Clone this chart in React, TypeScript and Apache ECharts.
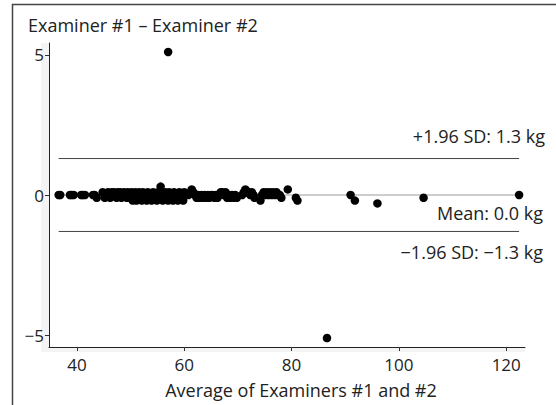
import React, { useEffect, useRef } from "react";
import * as echarts from "echarts";

const xTicks = [40, 60, 80, 100, 120];
const yTicks = [-5, 0, 5];

// Average of Examiners #1 and #2 (kg)
const avgValues = [
  36.6, 36.9,
  38.7, 39.0, 39.4,
  40.8, 41.1, 41.5,
  43.0, 43.3, 43.7,
  44.8, 45.2,
  45.8, 46.0, 46.2, 46.5, 46.7, 46.9, 47.2, 47.4, 47.6, 47.9,
  48.1, 48.3, 48.6, 48.8, 49.0, 49.3, 49.5, 49.7, 50.0, 50.2,
  50.4, 50.7, 50.9, 51.1, 51.4, 51.6, 51.8, 52.1, 52.3, 52.5,
  52.8, 53.0, 53.2, 53.5, 53.7, 53.9, 54.2, 54.4, 54.6, 54.9,
  55.1, 55.3, 55.6, 55.8, 56.0, 56.3, 56.5, 56.7, 57.0, 57.2,
  57.4, 57.7, 57.9, 58.1, 58.4, 58.6, 58.8, 59.1, 59.3, 59.5,
  59.8, 60.0, 60.2,
  60.8, 61.1, 61.4, 61.7, 62.0, 62.3, 62.6, 62.9, 63.2, 63.5,
  63.8, 64.1, 64.4, 64.7, 65.0, 65.3, 65.6, 65.9, 66.2, 66.5,
  66.8, 67.1, 67.4, 67.7, 68.0, 68.3, 68.6, 68.9, 69.2, 69.5,
  69.8,
  70.8, 71.1, 71.4, 71.7, 72.0, 72.3, 72.6, 72.9, 73.1,
  74.2, 74.5, 74.8, 75.1, 75.4, 75.7, 76.0, 76.3, 76.6, 76.9,
  77.2, 77.5, 77.8, 78.1,
  79.3, 80.8, 81.1, 91.0, 91.8, 96.0, 104.6, 122.4,
  57.0, 86.6,
];

// Difference Examiner #1 – Examiner #2 (kg)
const diffValues = [
  0, 0,
  0, 0, 0,
  0, 0, 0,
  0, 0, -0.1,
  0.1, -0.1,
  0.1, 0, -0.1, 0.1, 0, 0.1, 0, -0.1, 0.1, 0,
  0.1, -0.1, 0, 0.1, 0, -0.1, 0.1, 0, -0.1, 0.1,
  -0.2, 0, 0.1, -0.2, -0.1, 0.1, 0, -0.2, 0.1, -0.1,
  0, -0.2, 0.1, -0.1, 0, -0.2, 0.1, -0.1, 0, -0.2,
  0.1, -0.1, 0.3, 0.1, -0.2, 0, 0.1, -0.1, -0.2, 0.1,
  0, -0.1, -0.2, 0.1, 0, -0.1, -0.2, 0.1, 0, -0.1,
  -0.2, 0.1, 0,
  0, 0.1, 0.2, 0.1, 0, -0.1, 0, -0.1, 0, -0.1,
  0, -0.1, 0, -0.1, 0, 0, -0.1, 0, -0.1, 0,
  0.1, 0.1, 0, 0.1, -0.1, 0, -0.1, 0, -0.1, 0,
  -0.1,
  0, 0.1, 0.2, 0.1, 0.1, 0, 0.1, 0, -0.1,
  -0.2, 0, 0.1, 0, 0.1, 0, 0.1, 0, 0.1, 0,
  0.1, 0, 0, -0.1,
  0.2, -0.1, -0.2, 0, -0.2, -0.3, -0.1, 0,
  5.1, -5.1,
];

const meanDiff = 0.0;
const upperLimit = 1.3;
const lowerLimit = -1.3;

const title = "Examiner #1 \u2013 Examiner #2";
const xTitle = "Average of Examiners #1 and #2";
const upperLabel = "+1.96 SD: 1.3 kg";
const meanLabel = "Mean: 0.0 kg";
const lowerLabel = "\u22121.96 SD: \u22121.3 kg";

const FONT = "'Open Sans', Lato, sans-serif";

export default function App() {
  const ref = useRef<HTMLDivElement>(null);
  useEffect(() => {
    if (!ref.current) return;
    const chart = echarts.init(ref.current, null, { renderer: "svg" });
    const xMin = Math.min(...avgValues);
    const xMax = Math.max(...avgValues);
    const points = avgValues.map((x, i) => [x, diffValues[i]]);
    const hline = (y: number, color: string) => ({
      type: "line",
      data: [
        [xMin, y],
        [xMax, y],
      ],
      symbol: "none",
      lineStyle: { color, width: 1 },
      silent: true,
      z: 1,
    });
    const fmt = (v: number) => String(v).replace("-", "\u2212");
    const textStyle = { fontFamily: FONT, fontSize: 18, fill: "#222" };
    chart.setOption({
      animation: false,
      grid: { left: 49, right: 31, top: 43, bottom: 58 },
      xAxis: {
        type: "value",
        min: 34.8,
        max: 123.5,
        axisLine: { show: true, onZero: false, lineStyle: { color: "#222", width: 1 } },
        axisTick: { show: true, length: 4, customValues: xTicks, lineStyle: { color: "#333" } },
        axisLabel: { customValues: xTicks, formatter: fmt, fontFamily: FONT, fontSize: 17, color: "#222", margin: 9 },
        splitLine: { show: false },
      },
      yAxis: {
        type: "value",
        min: -5.42,
        max: 5.42,
        axisLine: { show: true, onZero: false, lineStyle: { color: "#222", width: 1 } },
        axisTick: { show: true, length: 4, customValues: yTicks, lineStyle: { color: "#333" } },
        axisLabel: { customValues: yTicks, formatter: fmt, fontFamily: FONT, fontSize: 17, color: "#222", margin: 5 },
        splitLine: { show: false },
      },
      series: [
        hline(meanDiff, "#9a9a9a"),
        hline(upperLimit, "#444"),
        hline(lowerLimit, "#444"),
        {
          type: "scatter",
          data: points,
          symbolSize: 8.5,
          itemStyle: { color: "#000", opacity: 1 },
          z: 3,
        },
      ],
      graphic: [
        { type: "rect", z: -10, shape: { x: 41, y: 43, width: 8, height: 309 }, style: { fill: "#f4f4f4" } },
        { type: "rect", z: -10, shape: { x: 41, y: 347, width: 484, height: 5 }, style: { fill: "#f4f4f4" } },
        { type: "line", shape: { x1: 12.5, y1: 4, x2: 12.5, y2: 405 }, style: { stroke: "#444", lineWidth: 1.5 } },
        { type: "line", shape: { x1: 12, y1: 4.5, x2: 556, y2: 4.5 }, style: { stroke: "#444", lineWidth: 1.5 } },
        { type: "text", x: 28, y: 25, style: { ...textStyle, text: title, textVerticalAlign: "middle" } },
        { type: "text", x: 301, y: 390, style: { ...textStyle, text: xTitle, textAlign: "center", textVerticalAlign: "middle" } },
        { type: "text", x: 545, y: 136, style: { ...textStyle, text: upperLabel, textAlign: "right", textVerticalAlign: "middle" } },
        { type: "text", x: 543, y: 213, style: { ...textStyle, text: meanLabel, textAlign: "right", textVerticalAlign: "middle" } },
        { type: "text", x: 543, y: 252, style: { ...textStyle, text: lowerLabel, textAlign: "right", textVerticalAlign: "middle" } },
      ],
    });
    return () => chart.dispose();
  }, []);
  return <div ref={ref} style={{ width: 556, height: 405, position: "absolute", left: 0, top: 0 }} />;
}
